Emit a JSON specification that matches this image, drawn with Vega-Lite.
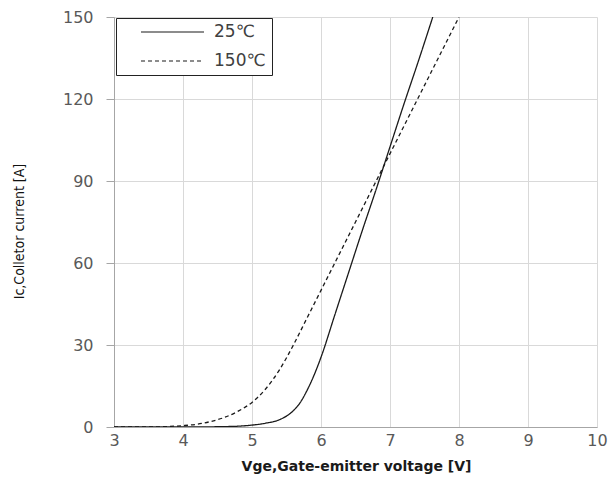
{
  "$schema": "https://vega.github.io/schema/vega-lite/v6.json",
  "width": 483,
  "height": 410,
  "autosize": {"type": "none"},
  "padding": {"left": 114, "top": 17, "right": 11, "bottom": 59},
  "background": "white",
  "config": {
    "view": {"stroke": null},
    "font": "DejaVu Sans"
  },
  "data": {
    "values": [
      {"v": 3.0, "ic": 0, "T": "25℃"},
      {"v": 3.5, "ic": 0, "T": "25℃"},
      {"v": 4.0, "ic": 0, "T": "25℃"},
      {"v": 4.5, "ic": 0.1, "T": "25℃"},
      {"v": 4.8, "ic": 0.3, "T": "25℃"},
      {"v": 5.0, "ic": 0.7, "T": "25℃"},
      {"v": 5.2, "ic": 1.4, "T": "25℃"},
      {"v": 5.4, "ic": 2.7, "T": "25℃"},
      {"v": 5.6, "ic": 6, "T": "25℃"},
      {"v": 5.7, "ic": 9, "T": "25℃"},
      {"v": 5.8, "ic": 13.5, "T": "25℃"},
      {"v": 5.9, "ic": 19, "T": "25℃"},
      {"v": 6.0, "ic": 25.5, "T": "25℃"},
      {"v": 6.2, "ic": 41, "T": "25℃"},
      {"v": 6.4, "ic": 56.5, "T": "25℃"},
      {"v": 6.6, "ic": 72, "T": "25℃"},
      {"v": 6.8, "ic": 87, "T": "25℃"},
      {"v": 7.0, "ic": 102.5, "T": "25℃"},
      {"v": 7.2, "ic": 118, "T": "25℃"},
      {"v": 7.4, "ic": 133, "T": "25℃"},
      {"v": 7.62, "ic": 150, "T": "25℃"},
      {"v": 3.0, "ic": 0, "T": "150℃"},
      {"v": 3.5, "ic": 0, "T": "150℃"},
      {"v": 3.8, "ic": 0.2, "T": "150℃"},
      {"v": 4.0, "ic": 0.5, "T": "150℃"},
      {"v": 4.2, "ic": 1.0, "T": "150℃"},
      {"v": 4.4, "ic": 2.0, "T": "150℃"},
      {"v": 4.6, "ic": 3.5, "T": "150℃"},
      {"v": 4.8, "ic": 5.8, "T": "150℃"},
      {"v": 5.0, "ic": 9, "T": "150℃"},
      {"v": 5.2, "ic": 14, "T": "150℃"},
      {"v": 5.4, "ic": 21, "T": "150℃"},
      {"v": 5.6, "ic": 30, "T": "150℃"},
      {"v": 5.8, "ic": 40, "T": "150℃"},
      {"v": 6.0, "ic": 50, "T": "150℃"},
      {"v": 6.5, "ic": 75, "T": "150℃"},
      {"v": 7.0, "ic": 100, "T": "150℃"},
      {"v": 7.5, "ic": 125, "T": "150℃"},
      {"v": 8.0, "ic": 150, "T": "150℃"}
    ]
  },
  "mark": {"type": "line", "interpolate": "monotone", "strokeWidth": 1.3, "clip": true, "color": "#1a1a1a"},
  "encoding": {
    "x": {
      "field": "v", "type": "quantitative",
      "scale": {"domain": [3, 10], "nice": false, "zero": false},
      "axis": {
        "values": [3, 4, 5, 6, 7, 8, 9, 10],
        "title": "Vge,Gate-emitter voltage [V]",
        "titleFont": "DejaVu Sans",
        "titleFontSize": 14,
        "titleFontWeight": "bold",
        "titleColor": "#1a1a1a",
        "titleX": 242,
        "titleY": 39,
        "titleBaseline": "middle",
        "titleAnchor": null,
        "ticks": false,
        "labelPadding": 5,
        "labelFont": "DejaVu Sans",
        "labelFontSize": 16,
        "labelColor": "#595959",
        "labelFlush": false,
        "domainColor": "#a6a6a6",
        "gridColor": "#d9d9d9",
        "grid": true
      }
    },
    "y": {
      "field": "ic", "type": "quantitative",
      "scale": {"domain": [0, 150], "nice": false},
      "axis": {
        "values": [0, 30, 60, 90, 120, 150],
        "title": "Ic,Colletor current [A]",
        "titleFont": "DejaVu Sans Condensed, Liberation Sans Narrow, sans-serif",
        "titleFontSize": 14,
        "titleFontWeight": "normal",
        "titleColor": "#111111",
        "titleAngle": -90,
        "titleX": -95,
        "titleY": 214,
        "titleAlign": "center",
        "titleBaseline": "middle",
        "titleAnchor": null,
        "tickSize": 8,
        "tickColor": "#a6a6a6",
        "labelPadding": 13,
        "labelFont": "DejaVu Sans",
        "labelFontSize": 16,
        "labelColor": "#595959",
        "labelFlush": false,
        "domainColor": "#a6a6a6",
        "gridColor": "#d9d9d9",
        "grid": true
      }
    },
    "strokeDash": {
      "field": "T", "type": "nominal",
      "scale": {"domain": ["25℃", "150℃"], "range": [[1, 0], [4, 3]]},
      "legend": {
        "title": null,
        "orient": "none",
        "legendX": 2,
        "legendY": 1,
        "padding": 6,
        "symbolOffset": 18,
        "symbolType": "stroke",
        "symbolSize": 3969,
        "symbolStrokeWidth": 1.2,
        "symbolStrokeColor": "#1a1a1a",
        "clipHeight": 16,
        "rowPadding": 12,
        "labelOffset": 9,
        "labelFont": "DejaVu Sans",
        "labelFontSize": 17,
        "labelColor": "#404040",
        "strokeColor": "#222222",
        "fillColor": "white"
      }
    }
  }
}
